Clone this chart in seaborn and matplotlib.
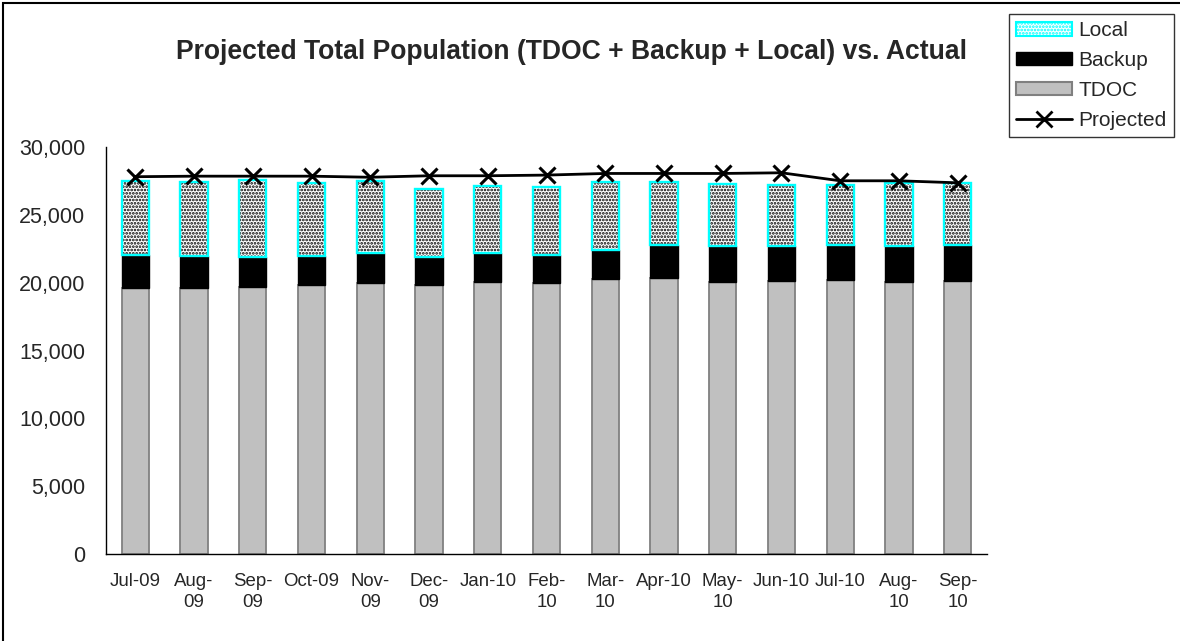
import numpy as np
import matplotlib
matplotlib.use("Agg")
import matplotlib.pyplot as plt
from matplotlib.patches import Patch, Rectangle
from matplotlib.lines import Line2D
import seaborn as sns

# === Data ===
months = ["Jul-09", "Aug-09", "Sep-09", "Oct-09", "Nov-09", "Dec-09", "Jan-10", "Feb-10",
          "Mar-10", "Apr-10", "May-10", "Jun-10", "Jul-10", "Aug-10", "Sep-10"]
month_labels = ["Jul-09", "Aug-\n09", "Sep-\n09", "Oct-09", "Nov-\n09", "Dec-\n09", "Jan-10",
                "Feb-\n10", "Mar-\n10", "Apr-10", "May-\n10", "Jun-10", "Jul-10", "Aug-\n10", "Sep-\n10"]
tdoc = [19640, 19590, 19710, 19840, 19960, 19840, 20080, 19960, 20250, 20370, 20040, 20130, 20210, 20080, 20150]
backup = [2410, 2380, 2210, 2130, 2260, 2040, 2090, 2090, 2170, 2420, 2670, 2580, 2580, 2660, 2640]
local = [5480, 5440, 5660, 5360, 5280, 5080, 4990, 5040, 4990, 4620, 4580, 4500, 4420, 4590, 4590]
projected = [27830, 27870, 27870, 27870, 27790, 27900, 27900, 27950, 28070, 28070, 28070, 28120, 27530, 27530, 27380]

sns.set_style("white")
plt.rcParams['font.family'] = ['Liberation Sans', 'DejaVu Sans']
plt.rcParams['hatch.linewidth'] = 1.3

fig = plt.figure(figsize=(11.8, 6.41), dpi=100)
ax = fig.add_axes([106 / 1180, 87 / 641, 881 / 1180, 406.7 / 641])

tdoc_a = np.array(tdoc)
backup_top = tdoc_a + np.array(backup)
bw = 0.465

# TDOC
sns.barplot(x=months, y=tdoc, color="#C0C0C0", width=bw, ax=ax,
            edgecolor="#808080", linewidth=1.3, saturation=1)
# Backup
sns.barplot(x=months, y=backup, bottom=tdoc_a, color="black", width=bw, ax=ax,
            edgecolor="black", linewidth=1, saturation=1)
# Local: hatch layer then cyan outline
n1 = len(ax.patches)
sns.barplot(x=months, y=local, bottom=backup_top, color="white", width=bw, ax=ax, saturation=1)
for p in ax.patches[n1:]:
    p.set_edgecolor("black")
    p.set_hatch(".....")
    p.set_linewidth(0)
n2 = len(ax.patches)
sns.barplot(x=months, y=local, bottom=backup_top, color="white", width=bw, ax=ax, saturation=1)
for p in ax.patches[n2:]:
    p.set_facecolor("none")
    p.set_edgecolor("#00FFFF")
    p.set_linewidth(1.7)

# Projected line
x = np.arange(len(months))
sns.lineplot(x=x, y=projected, color="black", linewidth=2, marker="x",
             markersize=11.5, markeredgewidth=2.2, markeredgecolor="black", ax=ax)

ax.set_xlim(-0.5, len(months) - 0.5)
ax.set_ylim(0, 30000)
ax.set_yticks(np.arange(0, 30001, 5000))
ax.set_yticklabels([f"{v:,}" for v in range(0, 30001, 5000)])
ax.set_xticks(np.arange(-0.5, len(months), 1.0))
ax.set_xticklabels([])
ax.set_xticks(x, month_labels, minor=True)
ax.tick_params(axis="x", which="major", direction="inout", length=11, width=1, color="black")
ax.tick_params(axis="x", which="minor", direction="in", length=4, width=1, color="black",
               labelsize=13.4, pad=14)
ax.tick_params(axis="y", direction="inout", length=16, width=1, color="black",
               labelsize=15.5, pad=7)
for t in ax.get_xticklabels(minor=True):
    t.set_verticalalignment("top")
    t.set_linespacing(1.3)
ax.set_xlabel("")
ax.set_ylabel("")
sns.despine(ax=ax)
for s in ["left", "bottom"]:
    ax.spines[s].set_color("black")
    ax.spines[s].set_linewidth(1)

fig.text(0.484, 1 - 52 / 641, "Projected Total Population (TDOC + Backup + Local) vs. Actual",
         ha="center", va="center", fontsize=19.1, fontweight="bold")

handles = [
    Patch(facecolor="white", edgecolor="#00FFFF", hatch=".....", linewidth=1.5),
    Patch(facecolor="black", edgecolor="black"),
    Patch(facecolor="#C0C0C0", edgecolor="#808080", linewidth=1.5),
    Line2D([], [], color="black", linewidth=2, marker="x", markersize=11, markeredgewidth=2),
]
leg = fig.legend(handles, ["Local", "Backup", "TDOC", "Projected"], loc="upper right",
                 bbox_to_anchor=(1174 / 1180, 1 - 14 / 641), fontsize=15, frameon=True,
                 fancybox=False, edgecolor="black", handlelength=2.7, handletextpad=0.3,
                 handleheight=0.6, labelspacing=0.52, borderpad=0.35, borderaxespad=0)
leg.get_frame().set_linewidth(1)

fig.patches.append(Rectangle((3 / 1180, -0.05), 1.2, 1.05 - 2.7 / 641, transform=fig.transFigure,
                             fill=False, edgecolor="black", linewidth=1.5))

fig.savefig("out.png", dpi=100)
